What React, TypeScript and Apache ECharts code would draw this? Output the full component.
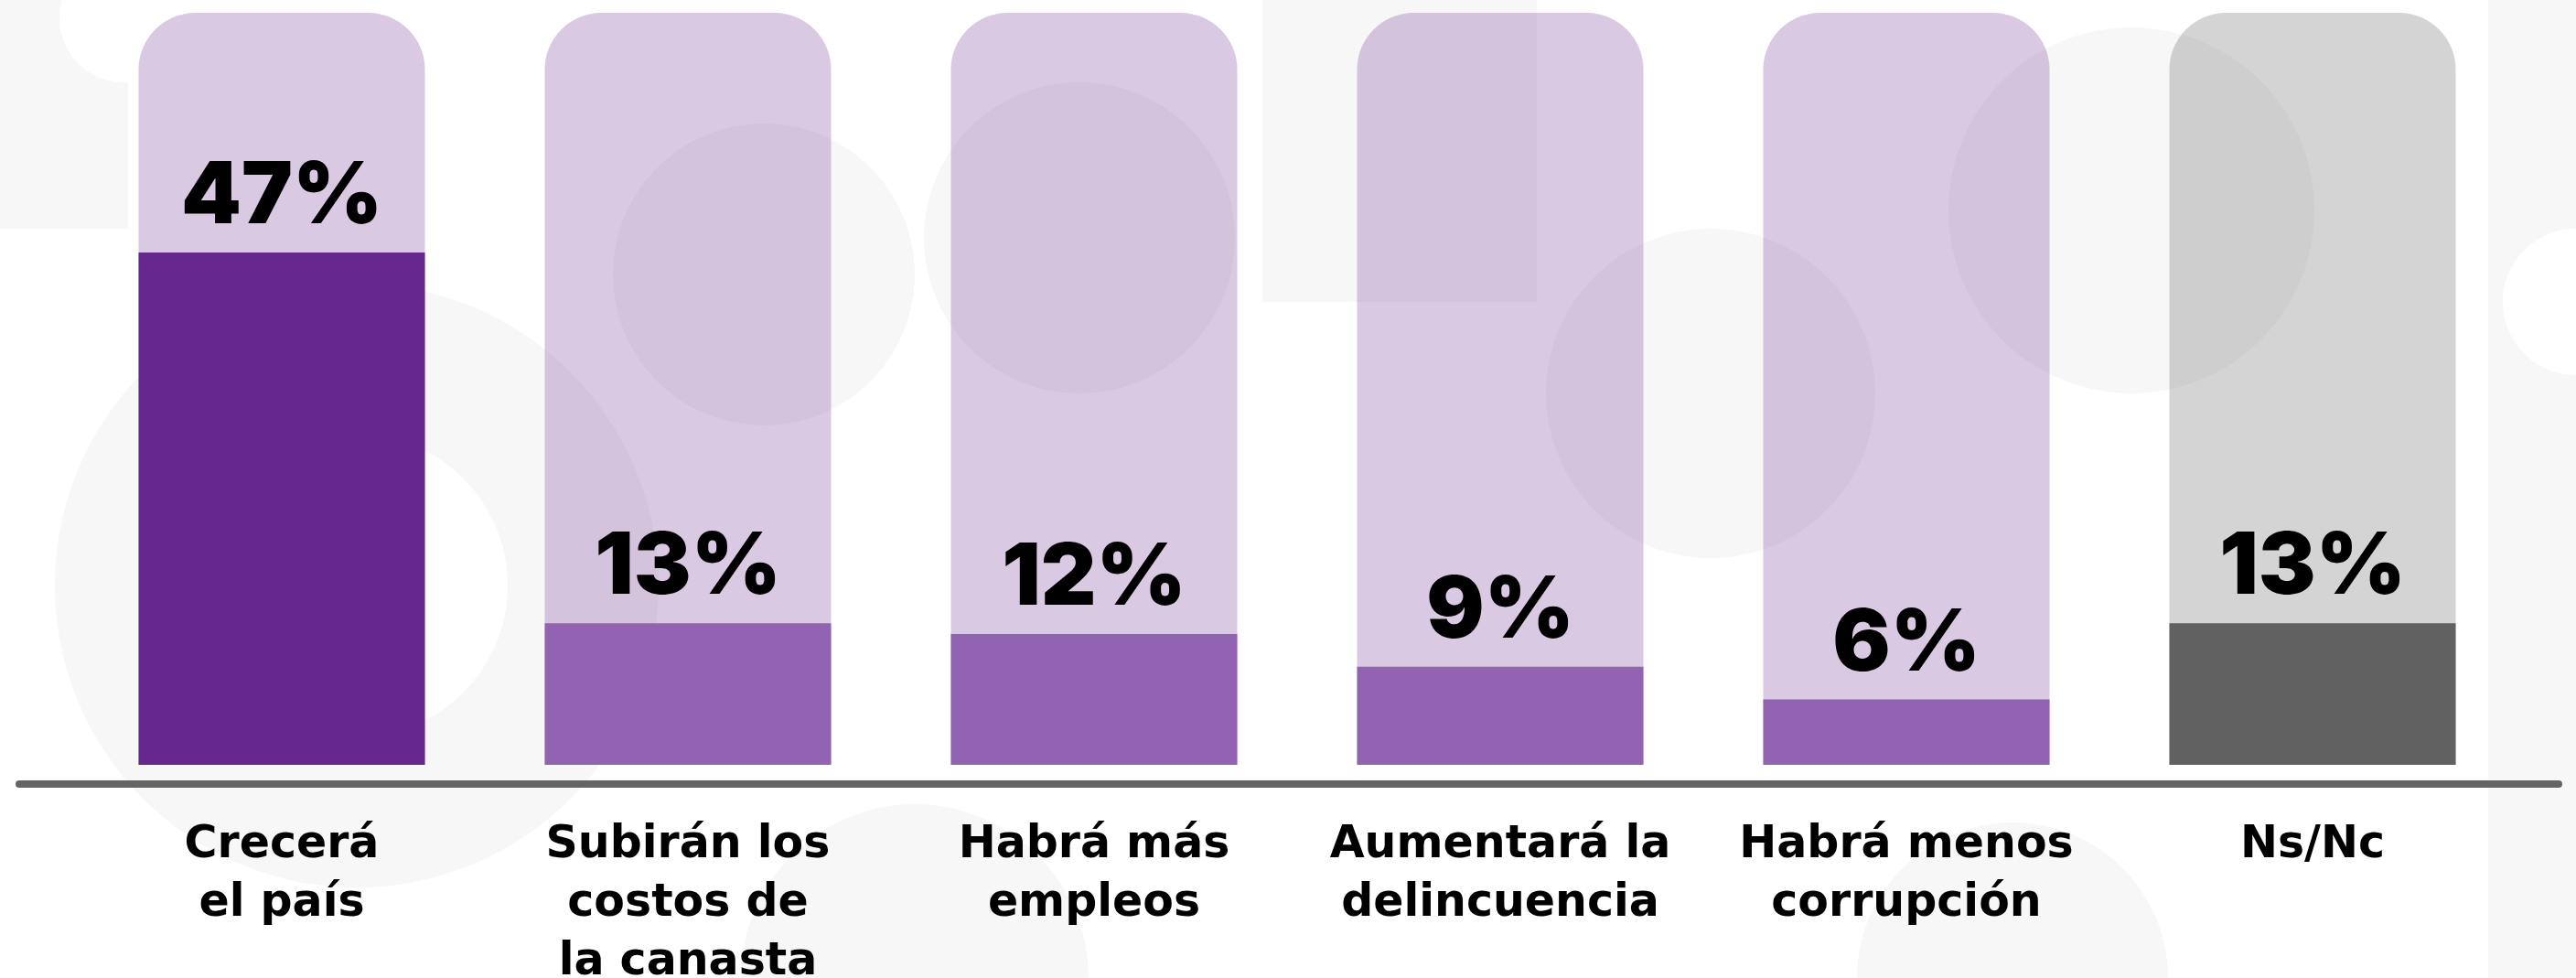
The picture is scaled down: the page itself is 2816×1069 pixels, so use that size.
import React, { useEffect, useRef } from "react";
import * as echarts from "echarts";

const categories = [
  "Crecerá\nel país",
  "Subirán los\ncostos de\nla canasta",
  "Habrá más\nempleos",
  "Aumentará la\ndelincuencia",
  "Habrá menos\ncorrupción",
  "Ns/Nc",
];
const values = [47, 13, 12, 9, 6, 13];
const scaleMax = 69;
const barColors = ["#66288C", "#9163B0", "#9163B0", "#9163B0", "#9163B0", "#616161"];
const trackColors = [
  "rgba(102,40,140,0.25)",
  "rgba(102,40,140,0.25)",
  "rgba(102,40,140,0.25)",
  "rgba(102,40,140,0.25)",
  "rgba(102,40,140,0.25)",
  "rgba(97,97,97,0.27)",
];

const PAT = "#f7f7f7";

export default function App() {
  const ref = useRef<HTMLDivElement>(null);
  useEffect(() => {
    if (!ref.current) return;
    const chart = echarts.init(ref.current, null, { renderer: "svg" });
    const bg: any[] = [
      { type: "rect", shape: { x: 0, y: 0, width: 140, height: 250 }, style: { fill: PAT } },
      { type: "circle", shape: { cx: 135, cy: 20, r: 70 }, style: { fill: "#ffffff" } },
      { type: "circle", shape: { cx: 390, cy: 640, r: 330 }, style: { fill: PAT } },
      { type: "circle", shape: { cx: 390, cy: 640, r: 165 }, style: { fill: "#ffffff" } },
      { type: "circle", shape: { cx: 835, cy: 300, r: 165 }, style: { fill: PAT } },
      { type: "circle", shape: { cx: 1180, cy: 260, r: 170 }, style: { fill: PAT } },
      { type: "rect", shape: { x: 1380, y: 0, width: 300, height: 330 }, style: { fill: PAT } },
      { type: "circle", shape: { cx: 1870, cy: 430, r: 180 }, style: { fill: PAT } },
      { type: "circle", shape: { cx: 2330, cy: 230, r: 200 }, style: { fill: PAT } },
      { type: "rect", shape: { x: 2720, y: 0, width: 96, height: 1069 }, style: { fill: PAT } },
      { type: "circle", shape: { cx: 2816, cy: 330, r: 80 }, style: { fill: "#ffffff" } },
      { type: "circle", shape: { cx: 1000, cy: 1069, r: 190 }, style: { fill: PAT } },
      { type: "circle", shape: { cx: 2200, cy: 1069, r: 170 }, style: { fill: PAT } },
    ].map((g) => ({ ...g, z: -10, silent: true }));

    chart.setOption({
      animation: false,
      backgroundColor: "#ffffff",
      grid: { left: 86, right: 66, top: 14, bottom: 233, outerBoundsMode: "none", containLabel: false },
      xAxis: {
        type: "category",
        data: categories,
        axisLine: { show: false },
        axisTick: { show: false },
        axisLabel: {
          interval: 0,
          margin: 52,
          color: "#000000",
          fontFamily: "'DejaVu Sans', Inter, sans-serif",
          fontWeight: "bold",
          fontSize: 49,
          lineHeight: 64,
          verticalAlign: "top",
        },
      },
      yAxis: {
        type: "value",
        min: 0,
        max: scaleMax,
        show: false,
        splitLine: { show: false },
      },
      graphic: [
        ...bg,
        {
          type: "line",
          z: 10,
          shape: { x1: 21, y1: 857, x2: 2797, y2: 857 },
          style: { stroke: "#646464", lineWidth: 8, lineCap: "round" },
        },
      ],
      series: [
        {
          type: "bar",
          silent: true,
          barWidth: 313,
          z: 1,
          data: categories.map((_, i) => ({
            value: scaleMax,
            itemStyle: { color: trackColors[i], borderRadius: [62, 62, 0, 0] },
          })),
        },
        {
          type: "bar",
          barWidth: 313,
          barGap: "-100%",
          z: 2,
          data: values.map((v, i) => ({ value: v, itemStyle: { color: barColors[i] } })),
          label: {
            show: true,
            position: "top",
            distance: 19,
            formatter: "{c}%",
            color: "#000000",
            fontFamily: "Inter, 'Open Sans', sans-serif",
            fontWeight: 900,
            fontSize: 94,
            lineHeight: 94,
          },
        },
      ],
    });
    return () => chart.dispose();
  }, []);
  return (
    <div
      ref={ref}
      style={{ position: "fixed", left: 0, top: 0, width: 2816, height: 1069 }}
    />
  );
}
